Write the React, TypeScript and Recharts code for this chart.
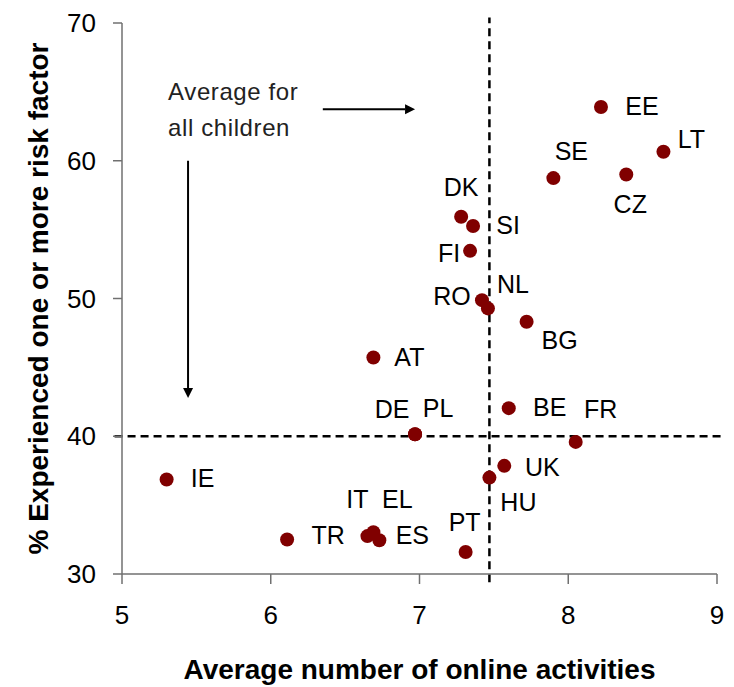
import React from "react";
import {
  ScatterChart,
  Scatter,
  XAxis,
  YAxis,
  ReferenceLine,
  ReferenceDot,
} from "recharts";

// countries and values
const countries = [
  "EE", "LT", "CZ", "SE", "DK", "SI", "FI", "RO", "NL", "BG", "AT", "DE",
  "PL", "BE", "FR", "UK", "HU", "IE", "TR", "IT", "EL", "ES", "PT",
];
const activities = [
  8.22, 8.64, 8.39, 7.9, 7.28, 7.36, 7.34, 7.42, 7.46, 7.72, 6.69, 6.97,
  6.97, 7.6, 8.05, 7.57, 7.47, 5.3, 6.11, 6.65, 6.69, 6.73, 7.31,
];
const riskFactor = [
  63.9, 60.65, 59.0, 58.74, 55.93, 55.26, 53.46, 49.88, 49.28, 48.31, 45.72,
  40.15, 40.15, 42.04, 39.59, 37.85, 37.0, 36.86, 32.5, 32.75, 33.03, 32.45,
  31.6,
];
const xTicks = [5, 6, 7, 8, 9];
const yTicks = [30, 40, 50, 60, 70];
const avgActivities = 7.47;
const avgRisk = 40;

const data = countries.map((c, i) => ({
  name: c,
  x: activities[i],
  y: riskFactor[i],
}));

// where each country's label sits relative to its dot (px)
const labelOffset: Record<string, [number, number]> = {
  EE: [41, -1], LT: [28, -13], CZ: [4, 29], SE: [18, -27], DK: [0, -30],
  SI: [35, -1], FI: [-21, 2], RO: [-30, -4], NL: [25, -24], BG: [33, 18],
  AT: [36, 0], DE: [-23, -25], PL: [23, -26], BE: [41, -1], FR: [25, -33],
  UK: [38, 1], HU: [29, 24], IE: [36, -2], TR: [41, -5], IT: [-10, -37],
  EL: [24, -33], ES: [33, -5], PT: [-1, -30],
};

const font = "'Liberation Sans', Arial, sans-serif";

const Dot = (props: any) => {
  const { cx, cy, payload } = props;
  const off = labelOffset[payload.name] || [30, 0];
  return (
    <g>
      <circle cx={cx} cy={cy} r={7} fill="#800000" />
      <text
        x={cx + off[0]}
        y={cy + off[1]}
        textAnchor="middle"
        dominantBaseline="central"
        fontSize={25}
        fontFamily={font}
        fill="#000"
      >
        {payload.name}
      </text>
    </g>
  );
};

const Arrow = (props: any) => {
  const { x1, y1, x2, y2 } = props;
  const ang = Math.atan2(y2 - y1, x2 - x1);
  const len = 10;
  const w = 5;
  const bx = x2 - len * Math.cos(ang);
  const by = y2 - len * Math.sin(ang);
  const px = -Math.sin(ang) * w;
  const py = Math.cos(ang) * w;
  return (
    <g>
      <line x1={x1} y1={y1} x2={bx} y2={by} stroke="#000" strokeWidth={2} />
      <polygon
        points={`${x2},${y2} ${bx + px},${by + py} ${bx - px},${by - py}`}
        fill="#000"
      />
    </g>
  );
};

const Note = (props: any) => {
  const { cx, cy } = props;
  return (
    <text x={cx} y={cy} fontSize={24} letterSpacing={0.6} fontFamily={font} fill="#222">
      <tspan x={cx} dy="0.35em">Average for</tspan>
      <tspan x={cx} dy="1.5em">all children</tspan>
    </text>
  );
};

const XTitle = (props: any) => {
  const { viewBox } = props;
  return (
    <text
      x={viewBox.x + viewBox.width / 2}
      y={viewBox.y + viewBox.height - 8}
      textAnchor="middle"
      fontSize={28}
      fontWeight="bold"
      fontFamily={font}
      fill="#000"
    >
      Average number of online activities
    </text>
  );
};

const YTitle = (props: any) => {
  const { viewBox } = props;
  const cx = 48;
  const cy = viewBox.y + viewBox.height / 2;
  return (
    <text
      x={cx}
      y={cy}
      transform={`rotate(-90, ${cx}, ${cy})`}
      textAnchor="middle"
      fontSize={28}
      fontWeight="bold"
      fontFamily={font}
      fill="#000"
    >
      % Experienced one or more risk factor
    </text>
  );
};

export default function App() {
  return (
    <div style={{ position: "absolute", left: 0, top: 0, background: "#fff" }}>
      <ScatterChart
        width={734}
        height={687}
        margin={{ top: 23, right: 17, left: 0, bottom: 0 }}
      >
        <XAxis
          type="number"
          dataKey="x"
          domain={[5, 9]}
          ticks={xTicks}
          height={113}
          tickSize={10}
          tickMargin={22}
          axisLine={{ stroke: "#707070", strokeWidth: 1.5 }}
          tickLine={{ stroke: "#707070", strokeWidth: 1.5 }}
          tick={{ fontSize: 26, fill: "#000", fontFamily: font }}
          label={<XTitle />}
        />
        <YAxis
          type="number"
          dataKey="y"
          domain={[30, 70]}
          ticks={yTicks}
          width={122}
          tickSize={9}
          tickMargin={17}
          axisLine={{ stroke: "#707070", strokeWidth: 1.5 }}
          tickLine={{ stroke: "#707070", strokeWidth: 1.5 }}
          tick={{ fontSize: 26, fill: "#000", fontFamily: font }}
          label={<YTitle />}
        />
        <ReferenceLine
          segment={[
            { x: 4.95, y: avgRisk },
            { x: 9.05, y: avgRisk },
          ]}
          ifOverflow="visible"
          stroke="#000"
          strokeWidth={2.5}
          strokeDasharray="8 5"
        />
        <ReferenceLine
          segment={[
            { x: avgActivities, y: 29.4 },
            { x: avgActivities, y: 70.4 },
          ]}
          ifOverflow="visible"
          stroke="#000"
          strokeWidth={2.5}
          strokeDasharray="8 5"
        />
        <ReferenceLine
          segment={[
            { x: 6.35, y: 63.73 },
            { x: 6.97, y: 63.73 },
          ]}
          ifOverflow="visible"
          shape={<Arrow />}
        />
        <ReferenceLine
          segment={[
            { x: 5.444, y: 60.0 },
            { x: 5.444, y: 42.77 },
          ]}
          ifOverflow="visible"
          shape={<Arrow />}
        />
        <ReferenceDot
          x={5.31}
          y={65.0}
          ifOverflow="visible"
          shape={<Note />}
        />
        <Scatter data={data} shape={<Dot />} isAnimationActive={false} />
      </ScatterChart>
    </div>
  );
}
